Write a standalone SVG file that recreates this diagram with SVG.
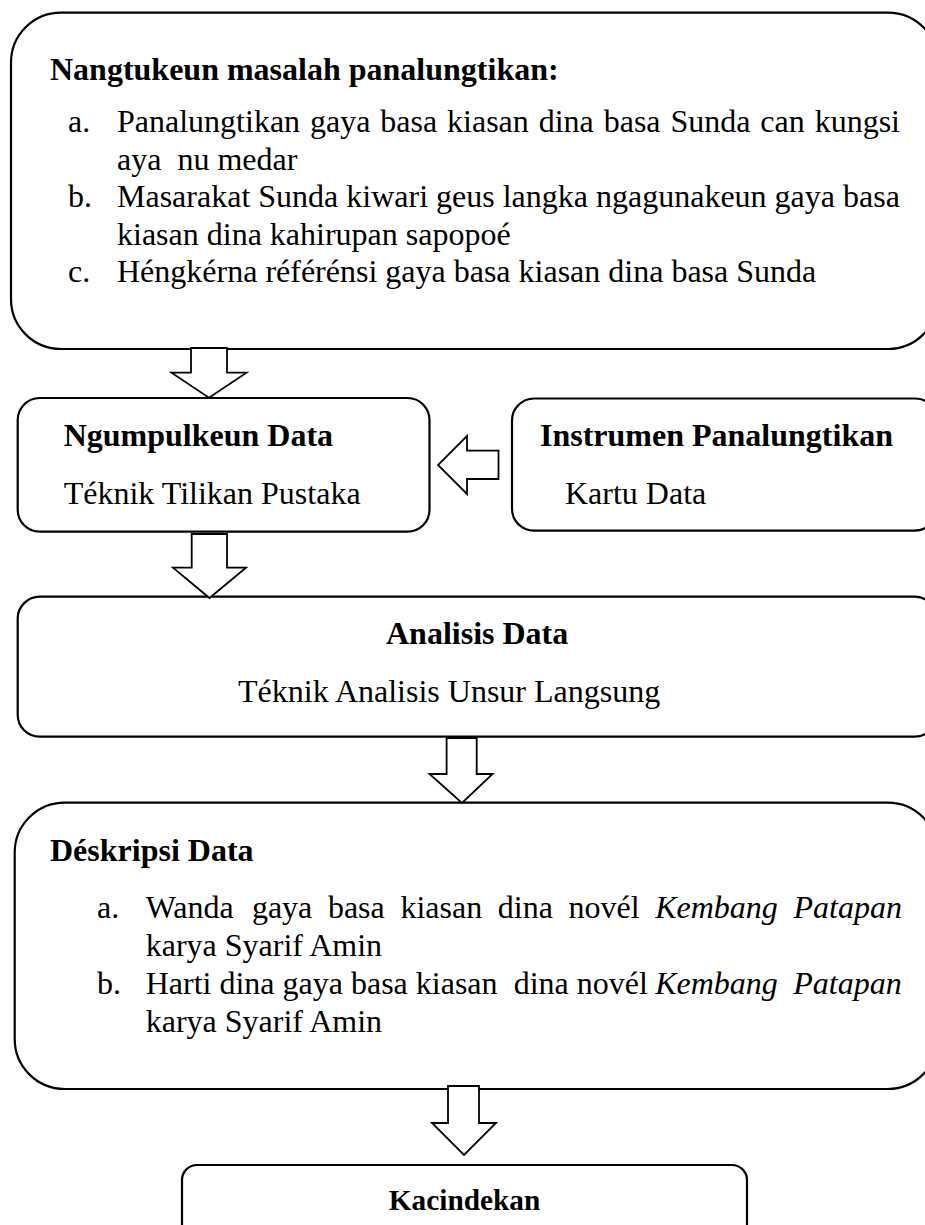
<svg xmlns="http://www.w3.org/2000/svg" width="925" height="1225" viewBox="0 0 925 1225">
<style>
.box{fill:none;stroke:#000;stroke-width:2.2}
.arrow{fill:#fff;stroke:#000;stroke-width:1.8;stroke-linejoin:miter}
.t{font-family:"Liberation Serif","Times New Roman",serif;font-size:32px;fill:#000}
.b{font-weight:bold}
.i{font-style:italic}
</style>
<rect width="925" height="1225" fill="#fff"/>
<g id="node-masalah">
<rect class="box" x="11" y="12.7" width="927" height="336.3" rx="50" ry="50"/>
<text class="t b" x="50" y="80">Nangtukeun masalah panalungtikan:</text>
<text class="t" x="68" y="132">a.</text>
<text class="t" x="117" y="132" word-spacing="1.9">Panalungtikan gaya basa kiasan dina basa Sunda can kungsi</text>
<text class="t" x="117" y="169.5" xml:space="preserve">aya  nu medar</text>
<text class="t" x="68" y="207">b.</text>
<text class="t" x="117" y="207">Masarakat Sunda kiwari geus langka ngagunakeun gaya basa</text>
<text class="t" x="117" y="244.5">kiasan dina kahirupan sapopoé</text>
<text class="t" x="68" y="282">c.</text>
<text class="t" x="117" y="282">Héngkérna référénsi gaya basa kiasan dina basa Sunda</text>
</g>
<g id="node-ngumpulkeun">
<rect class="box" x="17.7" y="398" width="411.8" height="133.7" rx="22" ry="22"/>
<text class="t b" x="63.7" y="446">Ngumpulkeun Data</text>
<text class="t" x="63.7" y="504">Téknik Tilikan Pustaka</text>
</g>
<g id="node-instrumen">
<rect class="box" x="512" y="398.5" width="425" height="132.2" rx="22" ry="22"/>
<text class="t b" x="540" y="446">Instrumen Panalungtikan</text>
<text class="t" x="565" y="504">Kartu Data</text>
</g>
<g id="node-analisis">
<rect class="box" x="17.7" y="596.7" width="919" height="140" rx="22" ry="22"/>
<text class="t b" x="386" y="644">Analisis Data</text>
<text class="t" x="238" y="702">Téknik Analisis Unsur Langsung</text>
</g>
<g id="node-deskripsi">
<rect class="box" x="14.7" y="802.7" width="923" height="286.3" rx="50" ry="50"/>
<text class="t b" x="50" y="861">Déskripsi Data</text>
<text class="t" x="97" y="918">a.</text>
<text class="t" y="918"><tspan x="145.7">Wanda</tspan><tspan x="251.9">gaya</tspan><tspan x="327.9">basa</tspan><tspan x="400.4">kiasan</tspan><tspan x="497.8">dina</tspan><tspan x="568.5">novél</tspan><tspan class="i" x="655.2">Kembang</tspan><tspan class="i" x="793.5">Patapan</tspan></text>
<text class="t" x="145.7" y="956">karya Syarif Amin</text>
<text class="t" x="97" y="994">b.</text>
<text class="t" y="994"><tspan x="145.7">Harti dina gaya basa kiasan</tspan><tspan x="513.7">dina novél</tspan><tspan class="i" x="655.2">Kembang</tspan><tspan class="i" x="793.3">Patapan</tspan></text>
<text class="t" x="145.7" y="1032">karya Syarif Amin</text>
</g>
<g id="node-kacindekan">
<rect class="box" x="182" y="1165" width="565" height="90" rx="15" ry="15"/>
<text class="t b" x="464.5" y="1210" text-anchor="middle" style="font-size:29.3px">Kacindekan</text>
</g>
<g id="connectors">
<polygon class="arrow" points="191,348 227,348 227,372.7 246.5,372.7 209,397.7 171.5,372.7 191,372.7"/>
<polygon class="arrow" points="191.7,534 227,534 227,567.7 246,567.7 209.5,598 173,567.7 191.7,567.7"/>
<polygon class="arrow" points="446.6,738 476.7,738 476.7,774 492.6,774 462,803 429.5,774 446.6,774"/>
<polygon class="arrow" points="448,1086 479,1086 479,1123 496,1123 464,1155 432,1123 448,1123"/>
<polygon class="arrow" points="498.5,450.7 498.5,479 467,479 467,494 438,465 467,436 467,450.7"/>
</g>
</svg>
